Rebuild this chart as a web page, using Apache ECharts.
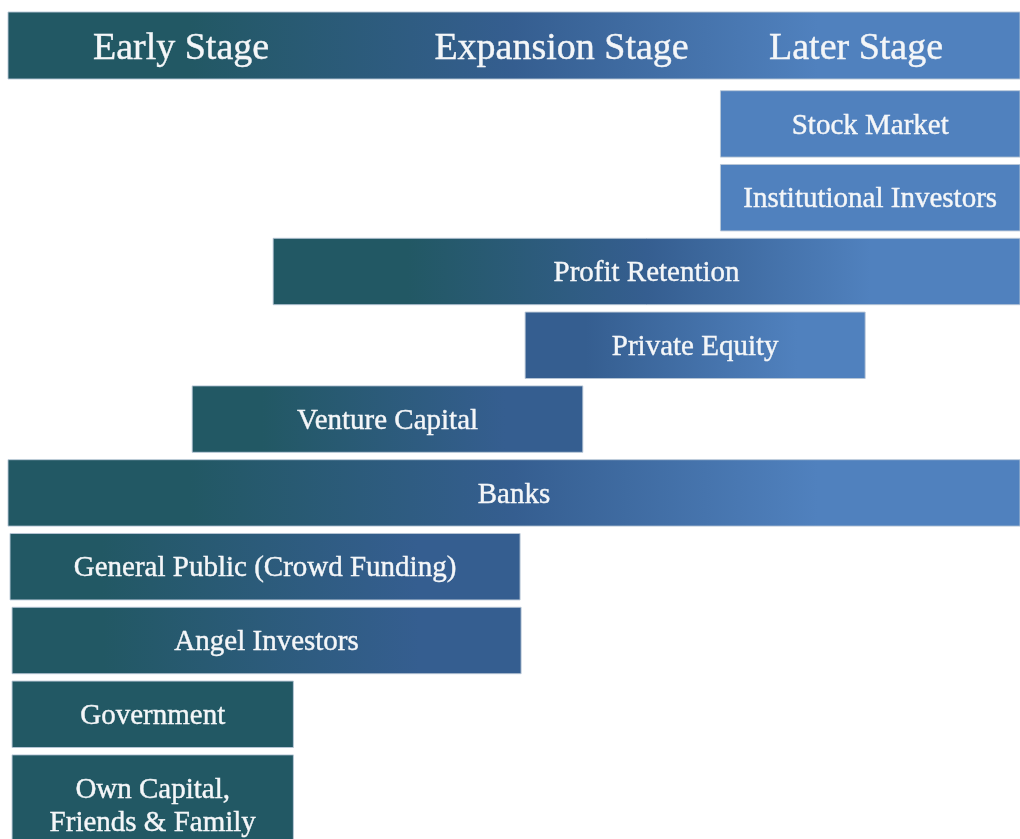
<!DOCTYPE html>
<html>
<head>
<meta charset="utf-8">
<script src="https://cdn.jsdelivr.net/npm/echarts@6/dist/echarts.min.js"></script>
<style>
  html, body { margin: 0; padding: 0; background: #fff; }
  #main { width: 1020px; height: 839px; }
</style>
</head>
<body>
<div id="main"></div>
<script>
// funding sources, top to bottom (x = share of company life cycle, 0-100)
var rowNames = [
  "Stock Market",
  "Institutional Investors",
  "Profit Retention",
  "Private Equity",
  "Venture Capital",
  "Banks",
  "General Public (Crowd Funding)",
  "Angel Investors",
  "Government",
  "Own Capital,\nFriends & Family"
];
var rowStart = [70.4, 70.4, 26.2, 51.1, 18.2, 0, 0.2, 0.4, 0.4, 0.4];
var rowEnd = [100, 100, 100, 84.7, 56.8, 100, 50.6, 50.7, 28.2, 28.2];

// header band
var stageNames = ["Early Stage", "Expansion Stage", "Later Stage"];
var stageCenters = [17.1, 54.7, 83.8];
var headerStart = [0];
var headerEnd = [100];

var TEAL = "#225864";
var MID = "#355e90";
var LIGHT = "#5081be";
var TEXT = "#f4f6f8";

function stageOf(v) {
  if (v < 40) return 0;
  if (v < 65) return 1;
  return 2;
}
var stageColors = [TEAL, MID, LIGHT];

// gradient picks colours by which stage each end of the bar sits in
function barFill(s, e) {
  var a = stageOf(s), b = stageOf(e);
  if (a === b) return stageColors[a];
  var stops = [
    { offset: 0, color: stageColors[a] },
    { offset: 0.18, color: stageColors[a] }
  ];
  if (b - a === 2) stops.push({ offset: 0.5, color: MID });
  stops.push({ offset: 0.8, color: stageColors[b] });
  stops.push({ offset: 1, color: stageColors[b] });
  return { type: "linear", x: 0, y: 0, x2: 1, y2: 0, colorStops: stops };
}

function makeBar(api, row, s, e, text, fontSize, ratio) {
  var p0 = api.coord([s, row]);
  var p1 = api.coord([e, row]);
  var h = api.size([0, 1])[1] * ratio;
  var lines = text ? text.split("\n").length : 1;
  var extra = (lines - 1) * 33;
  return {
    type: "rect",
    shape: { x: p0[0], y: p0[1] - h / 2, width: p1[0] - p0[0], height: h + extra },
    style: {
      fill: barFill(s, e),
      stroke: "rgba(185,200,215,0.9)",
      lineWidth: 1
    },
    textContent: text
      ? {
          style: {
            text: text,
            fill: TEXT,
            stroke: TEXT,
            lineWidth: 0.4,
            font: fontSize + "px 'Liberation Serif', serif",
            lineHeight: 33,
            align: "center",
            verticalAlign: "middle"
          }
        }
      : undefined,
    textConfig: { position: "inside", offset: [0, 2] }
  };
}

var rowData = rowNames.map(function (n, i) {
  return { value: [i, rowStart[i], rowEnd[i]], name: n };
});

var option = {
  animation: false,
  grid: [
    { left: 8, right: 0, top: 12, height: 67 },
    { left: 8, right: 0, top: 87, bottom: 14 }
  ],
  xAxis: [
    { type: "value", gridIndex: 0, min: 0, max: 100, show: false },
    { type: "value", gridIndex: 1, min: 0, max: 100, show: false }
  ],
  yAxis: [
    { type: "category", gridIndex: 0, data: ["stages"], show: false },
    { type: "category", gridIndex: 1, data: rowNames, inverse: true, show: false }
  ],
  series: [
    {
      type: "custom",
      xAxisIndex: 0,
      yAxisIndex: 0,
      data: [[0, headerStart[0], headerEnd[0]]],
      renderItem: function (params, api) {
        return makeBar(api, 0, api.value(1), api.value(2), null, 38, 1);
      }
    },
    {
      type: "custom",
      xAxisIndex: 0,
      yAxisIndex: 0,
      data: stageNames.map(function (n, i) {
        return { value: [stageCenters[i], 0], name: n };
      }),
      renderItem: function (params, api) {
        var p = api.coord([api.value(0), 0]);
        return {
          type: "text",
          x: p[0],
          y: p[1] + 4,
          style: {
            text: stageNames[params.dataIndex],
            fill: TEXT,
            stroke: TEXT,
            lineWidth: 0.4,
            font: "38px 'Liberation Serif', serif",
            align: "center",
            verticalAlign: "middle"
          }
        };
      }
    },
    {
      type: "custom",
      xAxisIndex: 1,
      yAxisIndex: 1,
      data: rowData,
      renderItem: function (params, api) {
        return makeBar(api, api.value(0), api.value(1), api.value(2),
          rowNames[params.dataIndex], 29, 0.9);
      }
    }
  ]
};

var myChart = echarts.init(document.getElementById("main"));
myChart.setOption(option);
</script>
</body>
</html>
